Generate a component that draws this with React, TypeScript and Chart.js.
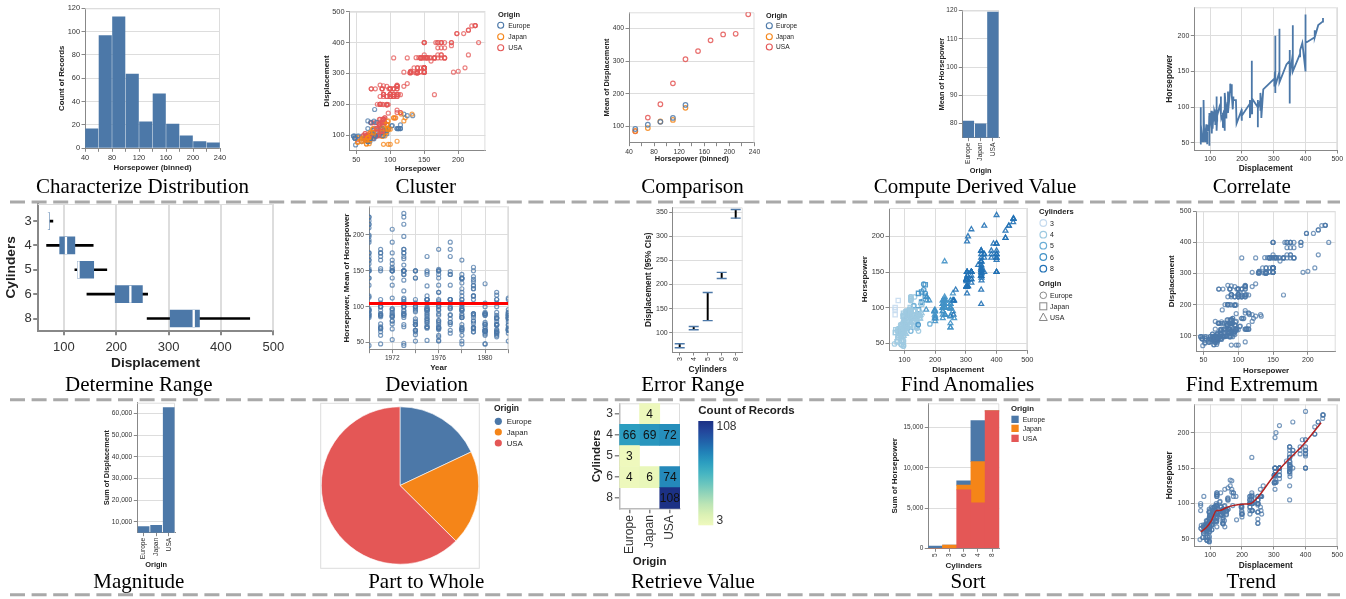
import React, { useEffect, useRef } from 'react';
import { Chart, registerables } from 'chart.js';
Chart.register(...registerables);

const FONT = "'Liberation Sans', Arial, Helvetica, sans-serif";
const SERIF = "'Liberation Serif', 'Times New Roman', Times, serif";
const BLUE = '#4c78a8';
const ORANGE = '#f58518';
const RED = '#e45756';
const GRID = '#dddddd';
const DOMAIN = '#888888';
const LABEL = '#333333';

const ORIGINS = ['Europe', 'Japan', 'USA'];
const ORIGIN_COLORS = [BLUE, ORANGE, RED];
const ORIGIN_SHAPES = ['circle', 'rect', 'triangle'];
const CYLINDERS = ['3', '4', '5', '6', '8'];
const CYL_COLORS: Record<number, string> = { 3: '#c6dbef', 4: '#9ecae1', 5: '#6baed6', 6: '#4292c6', 8: '#2171b5' };

const E = 0, J = 1, U = 2;
// [horsepower, displacement, cylinders, origin, year]
const CARS: number[][] = [
  [130,307,8,U,70],[165,350,8,U,70],[150,318,8,U,70],[150,304,8,U,70],[140,302,8,U,70],[198,429,8,U,70],[220,454,8,U,70],[215,440,8,U,70],[225,455,8,U,70],[190,390,8,U,70],[115,133,4,E,70],[165,350,8,U,70],[153,351,8,U,70],[175,383,8,U,70],[175,360,8,U,70],[170,383,8,U,70],[160,340,8,U,70],[140,302,8,U,70],[150,400,8,U,70],[225,455,8,U,70],[95,113,4,J,70],[95,198,6,U,70],[97,199,6,U,70],[85,200,6,U,70],[88,97,4,J,70],[46,97,4,E,70],[87,110,4,E,70],[90,107,4,E,70],[95,104,4,E,70],[113,121,4,E,70],[90,199,6,U,70],[215,360,8,U,70],[200,307,8,U,70],[210,318,8,U,70],[193,304,8,U,70],
  [88,97,4,J,71],[90,140,4,U,71],[95,113,4,J,71],[48,97,4,E,71],[100,232,6,U,71],[105,225,6,U,71],[100,250,6,U,71],[88,250,6,U,71],[100,232,6,U,71],[165,350,8,U,71],[175,400,8,U,71],[153,351,8,U,71],[150,318,8,U,71],[180,383,8,U,71],[170,400,8,U,71],[175,400,8,U,71],[110,258,6,U,71],[72,140,4,U,71],[100,250,6,U,71],[88,250,6,U,71],[86,122,4,U,71],[90,116,4,E,71],[70,79,4,E,71],[76,88,4,E,71],[65,71,4,J,71],[69,72,4,J,71],[60,97,4,E,71],[70,91,4,U,71],
  [95,113,4,J,72],[80,97,4,U,72],[54,97,4,E,72],[90,140,4,U,72],[86,122,4,U,72],[165,350,8,U,72],[175,400,8,U,72],[150,318,8,U,72],[153,351,8,U,72],[150,304,8,U,72],[208,429,8,U,72],[155,350,8,U,72],[160,350,8,U,72],[190,400,8,U,72],[97,70,3,J,72],[150,304,8,U,72],[130,307,8,U,72],[140,302,8,U,72],[150,318,8,U,72],[112,121,4,E,72],[76,121,4,E,72],[87,120,4,E,72],[69,96,4,E,72],[86,122,4,U,72],[92,97,4,J,72],[97,120,4,J,72],[80,98,4,U,72],[88,97,4,J,72],
  [175,350,8,U,73],[150,304,8,U,73],[145,350,8,U,73],[137,302,8,U,73],[150,318,8,U,73],[198,429,8,U,73],[150,400,8,U,73],[158,351,8,U,73],[150,318,8,U,73],[215,440,8,U,73],[225,455,8,U,73],[175,360,8,U,73],[105,225,6,U,73],[100,250,6,U,73],[100,232,6,U,73],[88,250,6,U,73],[95,198,6,U,73],[46,97,4,E,73],[150,400,8,U,73],[167,400,8,U,73],[170,360,8,U,73],[180,350,8,U,73],[100,232,6,U,73],[88,97,4,J,73],[72,140,4,U,73],[94,108,4,J,73],[90,70,3,J,73],[85,122,4,U,73],[107,155,6,U,73],[90,98,4,E,73],[145,350,8,U,73],[230,400,8,U,73],[49,68,4,E,73],[75,116,4,E,73],[91,114,4,E,73],[112,121,4,E,73],[150,318,8,U,73],[110,121,4,E,73],[122,156,6,J,73],[180,350,8,U,73],
  [95,198,6,U,74],[100,232,6,U,74],[100,250,6,U,74],[67,79,4,J,74],[80,122,4,U,74],[65,71,4,J,74],[75,140,4,U,74],[100,250,6,U,74],[110,258,6,U,74],[105,225,6,U,74],[140,302,8,U,74],[150,350,8,U,74],[150,318,8,U,74],[140,302,8,U,74],[150,304,8,U,74],[83,98,4,E,74],[67,79,4,E,74],[78,97,4,E,74],[52,76,4,J,74],[61,83,4,J,74],[75,90,4,U,74],[75,90,4,E,74],[75,116,4,E,74],[97,120,4,J,74],[93,108,4,J,74],[67,79,4,E,74],
  [95,225,6,U,75],[105,250,6,U,75],[72,250,6,U,75],[72,250,6,U,75],[170,400,8,U,75],[145,350,8,U,75],[150,318,8,U,75],[148,351,8,U,75],[110,231,6,U,75],[105,250,6,U,75],[110,258,6,U,75],[95,225,6,U,75],[110,231,6,U,75],[110,262,8,U,75],[129,302,8,U,75],[75,97,4,J,75],[83,140,4,U,75],[100,232,6,U,75],[78,140,4,U,75],[96,134,4,J,75],[71,90,4,E,75],[97,119,4,J,75],[97,171,6,U,75],[70,90,4,E,75],[90,232,6,U,75],[95,115,4,E,75],[88,120,4,E,75],[98,121,4,E,75],[115,121,4,E,75],[53,91,4,J,75],[86,107,4,E,75],[81,116,4,E,75],[92,140,4,U,75],[79,98,4,U,75],[83,101,4,E,75],
  [140,305,8,U,76],[150,318,8,U,76],[120,304,8,U,76],[152,351,8,U,76],[100,225,6,U,76],[105,250,6,U,76],[81,200,6,U,76],[90,232,6,U,76],[52,85,4,U,76],[60,98,4,U,76],[70,90,4,E,76],[53,91,4,J,76],[100,225,6,U,76],[78,250,6,U,76],[110,250,6,U,76],[95,258,6,U,76],[71,97,4,E,76],[70,85,4,J,76],[75,97,4,J,76],[72,140,4,U,76],[102,130,4,E,76],[150,318,8,U,76],[88,120,4,E,76],[108,156,6,J,76],[120,168,6,E,76],[180,350,8,U,76],[145,350,8,U,76],[130,302,8,U,76],[150,318,8,U,76],[68,98,4,J,76],[80,111,4,J,76],[58,79,4,E,76],[96,122,4,J,76],[70,85,4,J,76],
  [145,305,8,U,77],[110,260,8,U,77],[145,318,8,U,77],[130,302,8,U,77],[110,250,6,U,77],[105,231,6,U,77],[100,225,6,U,77],[98,250,6,U,77],[180,400,8,U,77],[170,350,8,U,77],[190,400,8,U,77],[149,351,8,U,77],[78,97,4,E,77],[88,151,4,U,77],[75,97,4,J,77],[89,140,4,U,77],[63,98,4,U,77],[83,98,4,U,77],[67,97,4,J,77],[78,97,4,E,77],[97,146,6,J,77],[110,121,4,E,77],[110,80,3,J,77],
  [48,90,4,E,78],[66,98,4,U,78],[52,78,4,J,78],[70,85,4,J,78],[60,91,4,J,78],[110,260,8,U,78],[140,318,8,U,78],[139,302,8,U,78],[105,231,6,U,78],[95,200,6,U,78],[85,200,6,U,78],[88,140,4,U,78],[100,225,6,U,78],[90,232,6,U,78],[105,231,6,U,78],[85,200,6,U,78],[110,225,6,U,78],[120,258,6,U,78],[145,305,8,U,78],[165,231,6,U,78],[139,302,8,U,78],[140,318,8,U,78],[68,98,4,U,78],[95,134,4,J,78],[97,119,4,J,78],[75,105,4,U,78],[95,134,4,J,78],[105,156,4,J,78],[85,151,4,U,78],[97,119,4,J,78],[103,131,5,E,78],[125,163,6,E,78],[115,121,4,E,78],[133,163,6,E,78],[71,89,4,E,78],[68,98,4,J,78],
  [115,231,6,U,79],[85,200,6,U,79],[88,140,4,U,79],[90,232,6,U,79],[110,225,6,U,79],[130,305,8,U,79],[129,302,8,U,79],[138,351,8,U,79],[135,318,8,U,79],[155,350,8,U,79],[142,351,8,U,79],[125,267,8,U,79],[150,360,8,U,79],[71,89,4,E,79],[65,86,4,J,79],[80,98,4,U,79],[80,121,4,U,79],[77,183,5,E,79],[125,350,8,U,79],[71,141,4,E,79],[90,260,8,U,79],[70,105,4,U,79],[70,105,4,U,79],[65,85,4,J,79],[69,91,4,E,79],[90,151,4,U,79],[115,173,6,U,79],[115,173,6,U,79],[90,151,4,U,79],
  [76,98,4,E,80],[60,89,4,J,80],[70,98,4,U,80],[65,86,4,J,80],[90,151,4,U,80],[88,140,4,U,80],[90,151,4,U,80],[90,225,6,U,80],[78,97,4,E,80],[90,134,4,J,80],[75,120,4,J,80],[92,119,4,J,80],[75,108,4,J,80],[65,86,4,J,80],[105,156,4,J,80],[65,85,4,J,80],[48,90,4,E,80],[48,90,4,E,80],[67,121,5,E,80],[67,146,4,E,80],[67,91,4,J,80],[67,97,4,J,80],[62,89,4,E,80],[132,168,6,J,80],[100,70,3,J,80],[88,122,4,E,80],[72,107,4,J,80],
  [84,135,4,U,81],[84,151,4,U,81],[92,156,4,U,81],[110,173,6,U,81],[84,135,4,U,81],[58,79,4,J,81],[64,86,4,U,81],[60,81,4,J,81],[67,97,4,J,81],[65,85,4,J,81],[62,89,4,J,81],[68,91,4,J,81],[63,105,4,U,81],[65,98,4,U,81],[65,98,4,U,81],[74,105,4,E,81],[75,107,4,J,81],[75,108,4,J,81],[100,119,4,J,81],[74,120,4,J,81],[80,141,4,E,81],[76,145,6,E,81],[116,168,6,J,81],[120,146,6,J,81],[110,231,6,U,81],[105,350,8,U,81],[88,200,6,U,81],[85,225,6,U,81],
  [88,112,4,U,82],[88,112,4,U,82],[88,112,4,U,82],[85,112,4,U,82],[84,135,4,U,82],[90,151,4,U,82],[92,140,4,U,82],[74,105,4,E,82],[68,91,4,J,82],[68,91,4,J,82],[63,105,4,U,82],[70,98,4,U,82],[88,120,4,J,82],[75,107,4,J,82],[70,108,4,J,82],[67,91,4,J,82],[67,91,4,J,82],[67,91,4,J,82],[110,181,6,U,82],[85,262,6,U,82],[92,156,4,U,82],[112,232,6,U,82],[96,144,4,J,82],[84,135,4,U,82],[90,151,4,U,82],[86,140,4,U,82],[52,97,4,E,82],[84,135,4,U,82],[79,120,4,U,82],[82,119,4,U,82],
];

// Characterize Distribution (histogram)
const HP_BIN_CENTERS = [50, 70, 90, 110, 130, 150, 170, 190, 210, 230];
const HP_BIN_COUNTS = [17, 97, 113, 64, 23, 47, 21, 11, 6, 5];
// Comparison
const CMP_BINS = [50, 70, 90, 110, 130, 150, 170, 190, 210, 230];
const CMP_EUROPE = [92, 105, 114, 126, 166];
const CMP_JAPAN = [86, 95, 115, 120, 157];
const CMP_USA = [85, 127, 168, 232, 306, 331, 364, 382, 384, 444];
// Compute Derived Value
const MEAN_HP_BY_ORIGIN = [81, 80, 119.6];
// Determine Range (box plot)
const BOX_MIN = [70, 67, 121, 144, 259];
const BOX_Q1 = [70, 92, 126, 198, 303];
const BOX_MED = [70, 104, 128, 227, 348];
const BOX_Q3 = [72.5, 121, 157, 250, 359];
const BOX_MAX = [79, 156, 182, 260, 455];
// Deviation
const MEAN_HP = 104.5;
// Error Range
const CI_LO = [68.8, 106.2, 125, 212.5, 337.5];
const CI_HI = [77.1, 113, 183.3, 225, 355.5];
// Magnitude
const SUM_DISP = [7980, 8560, 62900];
// Part to Whole
const ORIGIN_COUNTS = [73, 79, 254];
// Retrieve Value (heatmap)
const HM_COUNTS: (number | null)[][] = [
  [null, 4, null],
  [66, 69, 72],
  [3, null, null],
  [4, 6, 74],
  [null, null, 108],
];
// Sort
const SORT_CATS = ['5', '3', '6', '4', '8'];
const SORT_USA = [0, 0, 7250, 5650, 17050];
const SORT_JAPAN = [0, 410, 585, 5100, 0];
const SORT_EUROPE = [290, 0, 535, 5100, 0];
// Trend (loess)
const LOESS_X = [70, 88, 104, 120, 130, 150, 171, 202, 228, 254, 295, 342, 387, 449];
const LOESS_Y = [60, 66, 76, 90, 90, 94, 97, 99, 100, 111, 136, 160, 180, 214];

const YGB = ['#eff9bd', '#dbf1b4', '#bde5b5', '#94d5b9', '#69c5be', '#45b4c2', '#2c9ec0', '#2182b8', '#2163aa', '#23479c', '#1c3185'];
function ygb(t: number) {
  const x = Math.max(0, Math.min(1, t)) * (YGB.length - 1);
  const i = Math.min(Math.floor(x), YGB.length - 2);
  const f = x - i;
  const a = parseInt(YGB[i].slice(1), 16), b = parseInt(YGB[i + 1].slice(1), 16);
  const c = (s: number) => Math.round(((a >> s) & 255) * (1 - f) + ((b >> s) & 255) * f);
  return `rgb(${c(16)},${c(8)},${c(0)})`;
}
function rgba(hex: string, a: number) {
  const n = parseInt(hex.slice(1), 16);
  return `rgba(${(n >> 16) & 255},${(n >> 8) & 255},${n & 255},${a})`;
}

type G = { cx: number; cy: number; cw: number; ch: number; l: number; t: number; r: number; b: number };

const viewBorder = {
  id: 'viewBorder',
  beforeDatasetsDraw(chart: any, _a: any, opts: any) {
    if (!opts || !opts.color) return;
    const { ctx, chartArea: a } = chart;
    ctx.save();
    ctx.strokeStyle = opts.color;
    ctx.lineWidth = opts.width || 1;
    ctx.beginPath();
    ctx.moveTo(a.left, a.top + 0.5);
    ctx.lineTo(a.right - 0.5, a.top + 0.5);
    ctx.lineTo(a.right - 0.5, a.bottom);
    ctx.stroke();
    ctx.restore();
  },
};

const cellText = {
  id: 'cellText',
  afterDatasetsDraw(chart: any) {
    const ctx = chart.ctx;
    ctx.save();
    ctx.font = `12px ${FONT}`;
    ctx.fillStyle = '#111';
    ctx.textAlign = 'center';
    ctx.textBaseline = 'middle';
    chart.data.datasets.forEach((ds: any, di: number) => {
      chart.getDatasetMeta(di).data.forEach((el: any, i: number) => {
        const v = ds.counts ? ds.counts[i] : null;
        if (v == null) return;
        const p = el.getCenterPoint();
        ctx.fillText(String(v), p.x, p.y + 0.5);
      });
    });
    ctx.restore();
  },
};

function ax(o: any) {
  const g: G = o.g;
  const tf = o.titleFont ?? 7.8;
  const lh = tf * 1.2;
  const isY = o.pos === 'left';
  const size = isY ? g.l - g.cx : g.cy + g.ch - g.b;
  let tp = 0;
  if (o.title) tp = Math.max(0, isY ? o.titlePos - g.cx - lh / 2 : g.cy + g.ch - o.titlePos - lh / 2);
  const lw = o.lw ?? 1;
  const s: any = {
    type: o.type ?? 'linear',
    position: o.pos,
    display: true,
    grid: {
      display: true, drawOnChartArea: o.grid ?? true, color: GRID, lineWidth: lw, drawTicks: true,
      tickLength: o.tickLen ?? 3.5, tickColor: DOMAIN, tickWidth: lw, offset: false,
    },
    border: { display: true, color: o.domain ?? DOMAIN, width: lw },
    ticks: {
      font: { family: FONT, size: o.tickFont ?? 7 }, color: LABEL, padding: o.pad ?? 1.5,
      autoSkip: false, maxRotation: o.rot ?? 0, minRotation: o.rot ?? 0,
    },
    title: {
      display: !!o.title, text: o.title ?? '', color: '#222',
      font: { family: FONT, size: tf, weight: 'bold' },
      padding: isY ? { top: tp, bottom: 0 } : { top: 0, bottom: tp },
    },
    afterFit: (sc: any) => {
      if (isY) sc.width = size; else sc.height = size;
      sc.paddingLeft = 0; sc.paddingRight = 0; sc.paddingTop = 0; sc.paddingBottom = 0;
    },
  };
  if (o.min !== undefined) s.min = o.min;
  if (o.max !== undefined) s.max = o.max;
  if (o.reverse) s.reverse = true;
  if (o.stacked) s.stacked = true;
  if (o.offset !== undefined) s.offset = o.offset;
  if (o.labels) s.labels = o.labels;
  if (o.ticks) {
    const tv = o.ticks;
    s.afterBuildTicks = (sc: any) => { sc.ticks = tv.map((v: number) => ({ value: v })); };
  }
  if (o.fmt) { const f = o.fmt; s.ticks.callback = (v: any) => f(v); }
  return s;
}

function baseOptions(g: G, scales: any, extra: any = {}) {
  return {
    responsive: false, maintainAspectRatio: false, animation: false, devicePixelRatio: 1, events: [],
    layout: { padding: { left: 0, top: g.t - g.cy, right: g.cx + g.cw - g.r, bottom: 0 } },
    plugins: { legend: { display: false }, tooltip: { enabled: false }, viewBorder: { color: GRID, width: 1 } },
    scales,
    ...extra,
  };
}

function range(a: number, b: number, s: number) { const r: number[] = []; for (let v = a; v <= b + 1e-9; v += s) r.push(v); return r; }
const comma = (v: number) => Number(v).toLocaleString('en-US');
const str = (v: number) => String(v);

const BLUE_PT = rgba(BLUE, 0.75);
const PT_W = 1.2;

// ---------- geometry ----------
const g1: G = { cx: 40, cy: 0, cw: 190, ch: 176, l: 85, t: 8.3, r: 220, b: 148.3 };
const g2: G = { cx: 316, cy: 2, cw: 176, ch: 176, l: 349.5, t: 11.7, r: 485.4, b: 150.5 };
const g3: G = { cx: 596, cy: 4, cw: 168, ch: 164, l: 629, t: 12.3, r: 754.5, b: 142.7 };
const g4: G = { cx: 932, cy: 2, cw: 74, ch: 176, l: 962.3, t: 10.5, r: 999, b: 137.7 };
const g5: G = { cx: 1160, cy: 0, cw: 186, ch: 176, l: 1194.3, t: 7.3, r: 1337.3, b: 150 };
const g6: G = { cx: 0, cy: 192, cw: 290, ch: 180, l: 37.7, t: 204, r: 273.3, b: 330.7 };
const g7: G = { cx: 336, cy: 200, cw: 178, ch: 174, l: 369, t: 206.3, r: 508.3, b: 349.7 };
const g8: G = { cx: 638, cy: 200, cw: 112, ch: 176, l: 672.7, t: 207.3, r: 742.7, b: 352 };
const g9: G = { cx: 856, cy: 200, cw: 180, ch: 176, l: 889, t: 208, r: 1027.3, b: 350.3 };
const g10: G = { cx: 1162, cy: 204, cw: 182, ch: 172, l: 1196.5, t: 211.3, r: 1335.7, b: 351.3 };
const g11: G = { cx: 100, cy: 396, cw: 80, ch: 176, l: 137.3, t: 402.7, r: 175, b: 532.7 };
const g12: G = { cx: 321, cy: 403, cw: 158, ch: 165, l: 321, t: 403, r: 479, b: 568 };
const g13: G = { cx: 588, cy: 392, cw: 100, ch: 178, l: 619.3, t: 403.3, r: 680, b: 508.7 };
const g14: G = { cx: 884, cy: 396, cw: 122, ch: 176, l: 928.3, t: 403.3, r: 999.3, b: 548.3 };
const g15: G = { cx: 1160, cy: 396, cw: 186, ch: 178, l: 1194.3, t: 404.3, r: 1337.3, b: 546 };

const CONFIGS: [G, () => any][] = [
  [g1, () => ({
    type: 'bar',
    data: { datasets: [{ data: HP_BIN_CENTERS.map((x, i) => ({ x, y: HP_BIN_COUNTS[i] })), backgroundColor: BLUE, barPercentage: 0.97, categoryPercentage: 1, borderWidth: 0 }] },
    options: baseOptions(g1, {
      x: ax({ g: g1, pos: 'bottom', min: 40, max: 240, offset: false, ticks: range(40, 240, 20), fmt: (v: number) => (v % 40 === 0 ? String(v) : ''), grid: false, title: 'Horsepower (binned)', titlePos: 167.7, tickFont: 7.4, titleFont: 7.8 }),
      y: ax({ g: g1, pos: 'left', min: 0, max: 120, ticks: range(0, 120, 20), fmt: str, title: 'Count of Records', titlePos: 62, tickFont: 7.4, titleFont: 7.8 }),
    }),
    plugins: [viewBorder],
  })],
  [g2, () => ({
    type: 'scatter',
    data: { datasets: [{ data: CARS.map(c => ({ x: c[0], y: c[1] })), pointRadius: 2, pointBorderWidth: PT_W, pointBackgroundColor: 'rgba(0,0,0,0)', pointBorderColor: CARS.map(c => rgba(ORIGIN_COLORS[c[3]], 0.75)) }] },
    options: baseOptions(g2, {
      x: ax({ g: g2, pos: 'bottom', min: 40, max: 240, ticks: [50, 100, 150, 200], fmt: str, title: 'Horsepower', titlePos: 169.3, tickFont: 7.4, titleFont: 7.9 }),
      y: ax({ g: g2, pos: 'left', min: 50, max: 500, ticks: [100, 200, 300, 400, 500], fmt: str, title: 'Displacement', titlePos: 326.7, tickFont: 7.4, titleFont: 7.9 }),
    }),
    plugins: [viewBorder],
  })],
  [g3, () => ({
    type: 'scatter',
    data: {
      datasets: [
        { data: CMP_EUROPE.map((y, i) => ({ x: CMP_BINS[i], y })), pointRadius: 2.3, pointBorderWidth: 1.2, pointBackgroundColor: 'rgba(0,0,0,0)', pointBorderColor: rgba(BLUE, 0.85) },
        { data: CMP_JAPAN.map((y, i) => ({ x: CMP_BINS[i], y })), pointRadius: 2.3, pointBorderWidth: 1.2, pointBackgroundColor: 'rgba(0,0,0,0)', pointBorderColor: rgba(ORANGE, 0.85) },
        { data: CMP_USA.map((y, i) => ({ x: CMP_BINS[i], y })), pointRadius: 2.3, pointBorderWidth: 1.2, pointBackgroundColor: 'rgba(0,0,0,0)', pointBorderColor: rgba(RED, 0.85) },
      ],
    },
    options: baseOptions(g3, {
      x: ax({ g: g3, pos: 'bottom', min: 40, max: 240, ticks: range(40, 240, 20), fmt: (v: number) => (v % 40 === 0 ? String(v) : ''), grid: false, title: 'Horsepower (binned)', titlePos: 159.3, tickFont: 6.8, titleFont: 7.4 }),
      y: ax({ g: g3, pos: 'left', min: 50, max: 450, ticks: [100, 200, 300, 400], fmt: str, title: 'Mean of Displacement', titlePos: 606.7, tickFont: 6.8, titleFont: 7.4 }),
    }),
    plugins: [viewBorder],
  })],
  [g4, () => ({
    type: 'bar',
    data: { labels: ORIGINS, datasets: [{ data: MEAN_HP_BY_ORIGIN, backgroundColor: BLUE, barPercentage: 0.93, categoryPercentage: 1 }] },
    options: baseOptions(g4, {
      x: ax({ g: g4, type: 'category', pos: 'bottom', grid: false, rot: 90, title: 'Origin', titlePos: 170.7, tickFont: 6.6, titleFont: 7.4 }),
      y: ax({ g: g4, pos: 'left', min: 75, max: 120, ticks: [80, 90, 100, 110, 120], fmt: str, title: 'Mean of Horsepower', titlePos: 941.7, tickFont: 6.6, titleFont: 7.4 }),
    }),
    plugins: [viewBorder],
  })],
  [g5, () => {
    const sorted = CARS.map((c, i) => ({ x: c[1], y: c[0], i })).sort((a, b) => a.x - b.x || a.i - b.i);
    return {
      type: 'line',
      data: { datasets: [{ data: sorted.map(p => ({ x: p.x, y: p.y })), borderColor: BLUE, borderWidth: 1.8, pointRadius: 0, tension: 0, fill: false }] },
      options: baseOptions(g5, {
        x: ax({ g: g5, pos: 'bottom', min: 50, max: 500, ticks: [100, 200, 300, 400, 500], fmt: str, title: 'Displacement', titlePos: 168.3, tickFont: 7, titleFont: 8.3 }),
        y: ax({ g: g5, pos: 'left', min: 40, max: 240, ticks: [50, 100, 150, 200], fmt: str, title: 'Horsepower', titlePos: 1170, tickFont: 7, titleFont: 8.3 }),
      }),
      plugins: [viewBorder],
    };
  }],
  [g6, () => ({
    type: 'bar',
    data: {
      datasets: [
        { type: 'scatter', data: BOX_MED.map((m, i) => ({ x: m, y: i })), pointStyle: 'line', pointRotation: 90, pointRadius: 8.5, pointBorderColor: '#ffffff', pointBorderWidth: 2.3, order: 0 },
        { type: 'bar', data: BOX_Q1.map((q, i) => ({ x: [q, BOX_Q3[i]], y: i })), backgroundColor: BLUE, barThickness: 17, grouped: false, order: 1 },
        { type: 'bar', data: BOX_MIN.map((m, i) => ({ x: [m, BOX_MAX[i]], y: i })), backgroundColor: '#000000', barThickness: 2, grouped: false, order: 2 },
      ],
    },
    options: baseOptions(g6, {
      x: ax({ g: g6, pos: 'bottom', min: 50, max: 500, ticks: [100, 200, 300, 400, 500], fmt: str, title: 'Displacement', titlePos: 363, tickFont: 13, titleFont: 13.7, lw: 2, tickLen: 4.5, pad: 4 }),
      y: ax({ g: g6, pos: 'left', min: -0.7, max: 4.5, reverse: true, offset: false, ticks: [0, 1, 2, 3, 4], fmt: (v: number) => CYLINDERS[v], grid: false, title: 'Cylinders', titlePos: 11.7, tickFont: 13, titleFont: 13.7, lw: 2, tickLen: 4.5, pad: 1.5 }),
    }, { indexAxis: 'y' }),
    plugins: [viewBorder],
  })],
  [g7, () => ({
    type: 'scatter',
    data: {
      datasets: [
        { type: 'line', data: [{ x: 1970, y: MEAN_HP }, { x: 1982, y: MEAN_HP }], borderColor: '#ff0000', borderWidth: 3, pointRadius: 0, order: 0 },
        { data: CARS.map(c => ({ x: 1900 + c[4], y: c[0] })), pointRadius: 2, pointBorderWidth: PT_W, pointBackgroundColor: 'rgba(0,0,0,0)', pointBorderColor: BLUE_PT, order: 1 },
      ],
    },
    options: baseOptions(g7, {
      x: ax({ g: g7, pos: 'bottom', min: 1970, max: 1982, ticks: range(1970, 1982, 2), fmt: (v: number) => ([1972, 1976, 1980].includes(v) ? String(v) : ''), title: 'Year', titlePos: 368, tickFont: 6.6, titleFont: 8 }),
      y: ax({ g: g7, pos: 'left', min: 40, max: 240, ticks: [50, 100, 150, 200], fmt: str, title: 'Horsepower, Mean of Horsepower', titlePos: 346.7, tickFont: 6.6, titleFont: 8 }),
    }),
    plugins: [viewBorder],
  })],
  [g8, () => ({
    type: 'bar',
    data: {
      labels: CYLINDERS,
      datasets: [
        { type: 'line', data: CI_HI, showLine: false, pointStyle: 'line', pointRadius: 5, pointBorderColor: BLUE, pointBorderWidth: 1.4, order: 0 },
        { type: 'line', data: CI_LO, showLine: false, pointStyle: 'line', pointRadius: 5, pointBorderColor: BLUE, pointBorderWidth: 1.4, order: 0 },
        { type: 'bar', data: CI_LO.map((lo, i) => [lo, CI_HI[i]]), backgroundColor: '#000000', barThickness: 1.3, order: 1 },
      ],
    },
    options: baseOptions(g8, {
      x: ax({ g: g8, type: 'category', pos: 'bottom', grid: false, rot: 90, title: 'Cylinders', titlePos: 369.7, tickFont: 7, titleFont: 8.4 }),
      y: ax({ g: g8, pos: 'left', min: 60, max: 360, ticks: range(100, 350, 50), fmt: str, title: 'Displacement (95% CIs)', titlePos: 648.3, tickFont: 7, titleFont: 8.4 }),
    }),
    plugins: [viewBorder],
  })],
  [g9, () => ({
    type: 'scatter',
    data: {
      datasets: [{
        data: CARS.map(c => ({ x: c[1], y: c[0] })),
        pointStyle: CARS.map(c => ORIGIN_SHAPES[c[3]]),
        pointRadius: CARS.map(c => (c[3] === J ? 3 : c[3] === U ? 2.8 : 2.2)),
        pointBorderWidth: 1.3,
        pointBackgroundColor: 'rgba(0,0,0,0)',
        pointBorderColor: CARS.map(c => rgba(CYL_COLORS[c[2]], 0.9)),
      }],
    },
    options: baseOptions(g9, {
      x: ax({ g: g9, pos: 'bottom', min: 50, max: 500, ticks: [100, 200, 300, 400, 500], fmt: str, title: 'Displacement', titlePos: 369.7, tickFont: 7.4, titleFont: 8 }),
      y: ax({ g: g9, pos: 'left', min: 40, max: 240, ticks: [50, 100, 150, 200], fmt: str, title: 'Horsepower', titlePos: 865, tickFont: 7.4, titleFont: 8 }),
    }),
    plugins: [viewBorder],
  })],
  [g10, () => ({
    type: 'scatter',
    data: { datasets: [{ data: CARS.map(c => ({ x: c[0], y: c[1] })), pointRadius: 2, pointBorderWidth: PT_W, pointBackgroundColor: 'rgba(0,0,0,0)', pointBorderColor: BLUE_PT }] },
    options: baseOptions(g10, {
      x: ax({ g: g10, pos: 'bottom', min: 40, max: 240, ticks: [50, 100, 150, 200], fmt: str, title: 'Horsepower', titlePos: 370.7, tickFont: 7, titleFont: 8 }),
      y: ax({ g: g10, pos: 'left', min: 50, max: 500, ticks: [100, 200, 300, 400, 500], fmt: str, title: 'Displacement', titlePos: 1171.7, tickFont: 7, titleFont: 8 }),
    }),
    plugins: [viewBorder],
  })],
  [g11, () => ({
    type: 'bar',
    data: { labels: ORIGINS, datasets: [{ data: SUM_DISP, backgroundColor: BLUE, barPercentage: 0.93, categoryPercentage: 1 }] },
    options: baseOptions(g11, {
      x: ax({ g: g11, type: 'category', pos: 'bottom', grid: false, rot: 90, title: 'Origin', titlePos: 565.3, tickFont: 6.7, titleFont: 7.4 }),
      y: ax({ g: g11, pos: 'left', min: 5000, max: 65000, ticks: range(10000, 60000, 10000), fmt: comma, title: 'Sum of Displacement', titlePos: 107.3, tickFont: 6.7, titleFont: 7.4 }),
    }),
    plugins: [viewBorder],
  })],
  [g12, () => ({
    type: 'pie',
    data: { labels: ORIGINS, datasets: [{ data: ORIGIN_COUNTS, backgroundColor: ORIGIN_COLORS, borderColor: '#ffffff', borderWidth: 0.6 }] },
    options: {
      responsive: false, maintainAspectRatio: false, animation: false, devicePixelRatio: 1, events: [],
      layout: { padding: 0 },
      plugins: { legend: { display: false }, tooltip: { enabled: false } },
    },
  })],
  [g13, () => ({
    type: 'bar',
    data: {
      labels: ORIGINS,
      datasets: [4, 3, 2, 1, 0].map(ri => ({
        data: [1, 1, 1],
        counts: HM_COUNTS[ri],
        backgroundColor: HM_COUNTS[ri].map(v => (v == null ? 'rgba(0,0,0,0)' : ygb((v - 3) / 105))),
        barPercentage: 1, categoryPercentage: 1, borderWidth: 0,
      })),
    },
    options: baseOptions(g13, {
      x: ax({ g: g13, type: 'category', pos: 'bottom', stacked: true, grid: false, rot: 90, title: 'Origin', titlePos: 561.7, tickFont: 12, titleFont: 11.5, lw: 1.5, tickLen: 4.5, pad: 2, domain: '#bbbbbb' }),
      y: ax({ g: g13, pos: 'left', min: 0, max: 5, stacked: true, ticks: [0.5, 1.5, 2.5, 3.5, 4.5], fmt: (v: number) => CYLINDERS[4 - Math.floor(v)], grid: false, title: 'Cylinders', titlePos: 596.7, tickFont: 12, titleFont: 11.5, lw: 1.5, tickLen: 4.5, pad: 2, domain: '#bbbbbb' }),
    }),
    plugins: [viewBorder, cellText],
  })],
  [g14, () => ({
    type: 'bar',
    data: {
      labels: SORT_CATS,
      datasets: [
        { label: 'USA', data: SORT_USA, backgroundColor: RED, barPercentage: 1, categoryPercentage: 1 },
        { label: 'Japan', data: SORT_JAPAN, backgroundColor: ORANGE, barPercentage: 1, categoryPercentage: 1 },
        { label: 'Europe', data: SORT_EUROPE, backgroundColor: BLUE, barPercentage: 1, categoryPercentage: 1 },
      ],
    },
    options: baseOptions(g14, {
      x: ax({ g: g14, type: 'category', pos: 'bottom', stacked: true, grid: false, rot: 90, title: 'Cylinders', titlePos: 565.3, tickFont: 6.5, titleFont: 8 }),
      y: ax({ g: g14, pos: 'left', min: 0, max: 18000, stacked: true, ticks: [0, 5000, 10000, 15000], fmt: comma, title: 'Sum of Horsepower', titlePos: 894.3, tickFont: 6.5, titleFont: 8 }),
    }),
    plugins: [viewBorder],
  })],
  [g15, () => ({
    type: 'scatter',
    data: {
      datasets: [
        { type: 'line', data: LOESS_X.map((x, i) => ({ x, y: LOESS_Y[i] })), borderColor: '#b22222', borderWidth: 1.5, pointRadius: 0, tension: 0.4, cubicInterpolationMode: 'monotone', order: 0 },
        { data: CARS.map(c => ({ x: c[1], y: c[0] })), pointRadius: 2, pointBorderWidth: PT_W, pointBackgroundColor: 'rgba(0,0,0,0)', pointBorderColor: BLUE_PT, order: 1 },
      ],
    },
    options: baseOptions(g15, {
      x: ax({ g: g15, pos: 'bottom', min: 50, max: 500, ticks: [100, 200, 300, 400, 500], fmt: str, title: 'Displacement', titlePos: 566, tickFont: 7, titleFont: 8.3 }),
      y: ax({ g: g15, pos: 'left', min: 40, max: 240, ticks: [50, 100, 150, 200], fmt: str, title: 'Horsepower', titlePos: 1170, tickFont: 7, titleFont: 8.3 }),
    }),
    plugins: [viewBorder],
  })],
];

function ChartBox({ g, make }: { g: G; make: () => any }) {
  const ref = useRef<HTMLCanvasElement | null>(null);
  useEffect(() => {
    if (!ref.current) return;
    const chart = new Chart(ref.current, make());
    return () => chart.destroy();
  }, []);
  return <canvas ref={ref} width={g.cw} height={g.ch} style={{ position: 'absolute', left: g.cx, top: g.cy, width: g.cw, height: g.ch }} />;
}

const CAPTIONS: [string, number, number][] = [
  ['Characterize Distribution', 142.5, 193.3], ['Cluster', 425.8, 193.3], ['Comparison', 692.5, 193.3], ['Compute Derived Value', 975, 193.3], ['Correlate', 1251.7, 193.3],
  ['Determine Range', 138.8, 391.3], ['Deviation', 426.7, 391.3], ['Error Range', 692.8, 391.3], ['Find Anomalies', 967.5, 391.3], ['Find Extremum', 1252, 391.3],
  ['Magnitude', 138.8, 588.3], ['Part to Whole', 426.3, 588.3], ['Retrieve Value', 693, 588.3], ['Sort', 968, 588.3], ['Trend', 1251.3, 588.3],
];

function T({ x, y, s, b, children, fill = '#222' }: any) {
  return <text x={x} y={y} fontSize={s} fontFamily={FONT} fontWeight={b ? 'bold' : 'normal'} fill={fill}>{children}</text>;
}

function Overlay() {
  const cyl = [3, 4, 5, 6, 8];
  return (
    <svg width={1346} height={599} style={{ position: 'absolute', left: 0, top: 0 }}>
      <defs>
        <linearGradient id="ygbGrad" x1="0" y1="1" x2="0" y2="0">
          {YGB.map((c, i) => <stop key={i} offset={i / (YGB.length - 1)} stopColor={c} />)}
        </linearGradient>
      </defs>
      {[202, 399.7, 594.7].map(y => (
        <line key={y} x1={10} x2={1340} y1={y} y2={y} stroke="#a9a9a9" strokeWidth={3} strokeDasharray="15 6.6" />
      ))}
      {CAPTIONS.map(([t, x, y]) => (
        <text key={t} x={x} y={y} textAnchor="middle" fontFamily={SERIF} fontSize={21} fill="#000">{t}</text>
      ))}
      {/* Cluster legend */}
      <T x={498} y={17} s={7.5} b>Origin</T>
      {ORIGINS.map((o, i) => (
        <g key={o}>
          <circle cx={500.7} cy={[25.3, 36.7, 47.7][i]} r={3} fill="none" stroke={ORIGIN_COLORS[i]} strokeWidth={1.1} />
          <T x={508.3} y={[25.3, 36.7, 47.7][i] + 2.4} s={6.8}>{o}</T>
        </g>
      ))}
      {/* Comparison legend */}
      <T x={766} y={18.3} s={7.2} b>Origin</T>
      {ORIGINS.map((o, i) => (
        <g key={o}>
          <circle cx={769.3} cy={[25.7, 36.7, 47][i]} r={3} fill="none" stroke={ORIGIN_COLORS[i]} strokeWidth={1.1} />
          <T x={776} y={[25.7, 36.7, 47][i] + 2.4} s={6.6}>{o}</T>
        </g>
      ))}
      {/* Find Anomalies legend */}
      <T x={1039} y={214} s={7.6} b>Cylinders</T>
      {cyl.map((c, i) => (
        <g key={c}>
          <circle cx={1043.3} cy={[223, 234.7, 245.7, 257, 268.7][i]} r={3.3} fill="none" stroke={CYL_COLORS[c]} strokeWidth={1.2} />
          <T x={1050} y={[223, 234.7, 245.7, 257, 268.7][i] + 2.5} s={7}>{String(c)}</T>
        </g>
      ))}
      <T x={1039} y={286.4} s={7.6} b>Origin</T>
      <circle cx={1043.3} cy={295.3} r={3.3} fill="none" stroke="#888" strokeWidth={1} />
      <rect x={1039.8} y={302.8} width={7} height={7} fill="none" stroke="#888" strokeWidth={1} />
      <polygon points="1043.3,313 1047.3,320.5 1039.3,320.5" fill="none" stroke="#888" strokeWidth={1} />
      {ORIGINS.map((o, i) => <T key={o} x={1050} y={[295.3, 306.3, 317][i] + 2.5} s={7}>{o}</T>)}
      {/* Part to Whole */}
      <rect x={320.7} y={403.3} width={158.6} height={165} fill="none" stroke="#dddddd" strokeWidth={1} />
      <T x={494} y={411.3} s={8.5} b>Origin</T>
      {ORIGINS.map((o, i) => (
        <g key={o}>
          <circle cx={498.3} cy={[421.3, 432, 443][i]} r={3.6} fill={ORIGIN_COLORS[i]} />
          <T x={506.7} y={[421.3, 432, 443][i] + 2.7} s={7.8}>{o}</T>
        </g>
      ))}
      {/* Sort legend */}
      <T x={1011} y={410.5} s={7.8} b>Origin</T>
      {ORIGINS.map((o, i) => (
        <g key={o}>
          <rect x={1011.4} y={[419.3, 428.3, 438.3][i] - 3.6} width={7.3} height={7.3} fill={ORIGIN_COLORS[i]} />
          <T x={1022.7} y={[419.3, 428.3, 438.3][i] + 2.5} s={7}>{o}</T>
        </g>
      ))}
      {/* Retrieve Value legend */}
      <T x={698.3} y={414} s={11.5} b>Count of Records</T>
      <rect x={698.3} y={421} width={15} height={104.3} fill="url(#ygbGrad)" />
      <T x={716.5} y={430.3} s={12} fill="#333">108</T>
      <T x={716.5} y={524.3} s={12} fill="#333">3</T>
    </svg>
  );
}

export default function App() {
  return (
    <div style={{ position: 'absolute', left: 0, top: 0, width: 1346, height: 599, background: '#fff', overflow: 'hidden' }}>
      {CONFIGS.map(([g, make], i) => <ChartBox key={i} g={g} make={make} />)}
      <Overlay />
    </div>
  );
}
